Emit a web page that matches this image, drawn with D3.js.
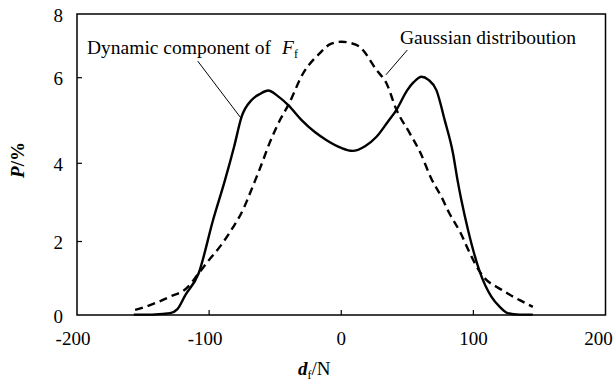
<!DOCTYPE html>
<html>
<head>
<meta charset="utf-8">
<script src="https://cdn.jsdelivr.net/npm/d3@7"></script>
<style>
  body { margin: 0; background: #fff; }
  svg text { font-family: "Liberation Serif", "Times New Roman", serif; fill: #000; }
</style>
</head>
<body>
<svg id="chart" width="614" height="387"></svg>
<script>
// x ticks / y ticks
const xTicks = [-200, -100, 0, 100, 200];
const yTicks = [0, 2, 4, 6, 8];

// dynamic component of Ff (solid)
const dynX = [-157, -145, -135, -129.5, -124, -118, -108, -97, -88, -81, -75.4, -67.8, -61.5, -55.3, -48, -40.1, -30, -20, -11.1, 0, 8.5, 18, 26.7, 35, 41.8, 50, 55, 60.7, 66, 72, 78.3, 84.6, 88, 90.9, 96, 104.8, 113.6, 120, 126, 135, 145];
const dynP = [0.01, 0.01, 0.03, 0.05, 0.16, 0.54, 1.13, 2.55, 3.57, 4.40, 5.09, 5.48, 5.62, 5.70, 5.57, 5.36, 5.01, 4.73, 4.54, 4.36, 4.29, 4.40, 4.62, 4.96, 5.25, 5.71, 5.90, 6.03, 5.95, 5.71, 5.01, 4.23, 3.57, 3.06, 2.29, 1.18, 0.50, 0.22, 0.05, 0.01, 0.01];

// gaussian distribution (dashed)
const gauX = [-156, -150, -144.7, -137, -129.6, -117, -108, -100, -91.8, -82.7, -74.1, -69, -65.3, -61.5, -53.9, -46.4, -40.1, -28.8, -16.2, -8, 0.2, 7, 14, 26.7, 34.2, 41.8, 51.9, 60, 68, 76, 82, 90, 97, 104.8, 110, 117.4, 124, 130, 138, 145];
const gauP = [0.14, 0.20, 0.27, 0.38, 0.50, 0.73, 1.13, 1.50, 1.86, 2.32, 2.83, 3.24, 3.55, 3.87, 4.50, 5.01, 5.36, 6.14, 6.77, 7.06, 7.13, 7.09, 6.97, 6.24, 5.87, 5.25, 4.70, 4.24, 3.62, 3.13, 2.71, 2.24, 1.71, 1.18, 0.95, 0.77, 0.63, 0.50, 0.35, 0.22];

const svg = d3.select("#chart");

// the printed axis has uneven tick spacing, so map it piece by piece
const x = d3.scaleLinear().domain([-200, 200]).range([77, 605.5]);
const y = d3.scaleLinear().domain(yTicks).range([315, 241.5, 163.3, 77.7, 14]);

// frame
svg.append("rect")
  .attr("x", x(-200)).attr("y", y(8))
  .attr("width", x(200) - x(-200)).attr("height", y(0) - y(8))
  .attr("fill", "none").attr("stroke", "#000").attr("stroke-width", 1.5);

// ticks pointing inward
svg.append("g").selectAll("line").data(xTicks.slice(1, -1)).join("line")
  .attr("x1", d => x(d)).attr("x2", d => x(d))
  .attr("y1", y(0)).attr("y2", y(0) - 5)
  .attr("stroke", "#000").attr("stroke-width", 1.2);

svg.append("g").selectAll("line").data(yTicks.slice(1, -1)).join("line")
  .attr("x1", x(-200)).attr("x2", x(-200) + 5)
  .attr("y1", d => y(d)).attr("y2", d => y(d))
  .attr("stroke", "#000").attr("stroke-width", 1.2);

// tick labels (last one pulled in so it stays on the page)
svg.append("g").selectAll("text").data(xTicks).join("text")
  .attr("x", d => x(d)).attr("y", 345)
  .attr("dx", d => d < 0 ? -4 : (d === 200 ? -7 : 0))
  .attr("text-anchor", "middle")
  .style("font-size", "19px")
  .text(d => d);

svg.append("g").selectAll("text").data(yTicks).join("text")
  .attr("x", 63).attr("y", d => y(d) + 7.5)
  .attr("text-anchor", "end")
  .style("font-size", "19px")
  .text(d => d);

// curves
const line = d3.line()
  .x(d => x(d[0]))
  .y(d => y(d[1]))
  .curve(d3.curveMonotoneX);

svg.append("path")
  .datum(d3.zip(gauX, gauP))
  .attr("d", line)
  .attr("fill", "none").attr("stroke", "#000")
  .attr("stroke-width", 2.4).attr("stroke-dasharray", "8,5");

svg.append("path")
  .datum(d3.zip(dynX, dynP))
  .attr("d", line)
  .attr("fill", "none").attr("stroke", "#000")
  .attr("stroke-width", 2.4);

// annotations + leader lines
svg.append("line")
  .attr("x1", x(-108.6)).attr("y1", y(6.52))
  .attr("x2", x(-76)).attr("y2", y(5.06))
  .attr("stroke", "#000").attr("stroke-width", 1);

svg.append("line")
  .attr("x1", x(50)).attr("y1", y(6.87))
  .attr("x2", x(33.8)).attr("y2", y(6.09))
  .attr("stroke", "#000").attr("stroke-width", 1);

const t1 = svg.append("text")
  .attr("x", 87).attr("y", 54)
  .style("font-size", "19.5px");
t1.append("tspan").text("Dynamic component of ");
t1.append("tspan").attr("dx", 6).style("font-style", "italic").text("F");
t1.append("tspan").attr("dy", 4).style("font-size", "12px").text("f");

svg.append("text")
  .attr("x", 400).attr("y", 43.5)
  .style("font-size", "19.5px")
  .text("Gaussian distriboution");

// axis titles
const yl = svg.append("text")
  .attr("transform", "translate(24,160) rotate(-90)")
  .attr("text-anchor", "middle")
  .style("font-size", "19px")
  .style("font-weight", "bold");
yl.append("tspan").style("font-style", "italic").text("P");
yl.append("tspan").text("/%");

const xl = svg.append("text")
  .attr("x", 298).attr("y", 375)
  .style("font-size", "19px");
xl.append("tspan").style("font-style", "italic").style("font-weight", "bold").text("d");
xl.append("tspan").attr("dy", 4).style("font-size", "12px").text("f");
xl.append("tspan").attr("dy", -4).text("/N");
</script>
</body>
</html>
